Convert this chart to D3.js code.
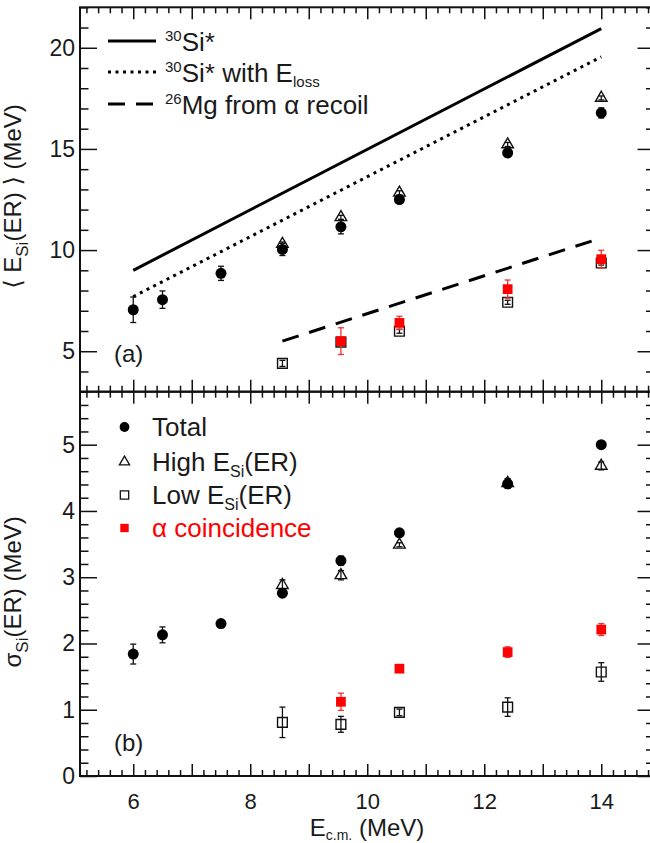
<!DOCTYPE html>
<html><head><meta charset="utf-8">
<script src="https://cdn.jsdelivr.net/npm/d3@7"></script>
<style>
body{margin:0;background:#fff}
svg{display:block}
text{font-family:"Liberation Sans",Arial,Helvetica,"DejaVu Sans",sans-serif;fill:#1a1a1a}
</style>
</head><body><svg id="c" width="650" height="843"></svg>
<script>
// ---------------- DATA ----------------
const energies      = [6.0, 6.5, 7.5, 8.55, 9.55, 10.55, 12.4, 14.0];
const energiesHL    = [8.55, 9.55, 10.55, 12.4, 14.0];
const energiesAlpha = [9.55, 10.55, 12.4, 14.0];

// panel (a): mean energy <E_Si(ER)> (MeV)
const meanTotal     = [7.05, 7.55, 8.85, 10.03, 11.15, 12.5, 14.8, 16.78];
const meanTotalErr  = [0.63, 0.43, 0.35, 0.3, 0.35, 0.15, 0.2, 0.25];
const meanHigh      = [10.3, 11.62, 12.83, 15.22, 17.52];
const meanHighErr   = [0.1, 0.1, 0.1, 0.1, 0.1];
const meanLow       = [4.4, 5.45, 5.99, 7.42, 9.36];
const meanLowErr    = [0.15, 0.1, 0.1, 0.1, 0.1];
const meanAlpha     = [5.5, 6.4, 8.07, 9.55];
const meanAlphaErr  = [0.66, 0.33, 0.45, 0.44];

// model lines (x = E_cm, y = <E>)
const lineSi     = [[6.0, 9.0], [14.0, 20.95]];
const lineSiLoss = [[6.0, 7.7], [14.0, 19.55]];
const lineMg     = [[8.55, 5.5], [14.0, 10.6]];

// panel (b): sigma_Si(ER) (MeV)
const sigTotal    = [1.84, 2.13, 2.30, 2.76, 3.25, 3.67, 4.41, 5.0];
const sigTotalErr = [0.15, 0.12, 0.06, 0.05, 0.07, 0.03, 0.07, 0.05];
const sigHigh     = [2.88, 3.03, 3.49, 4.42, 4.68];
const sigHighErr  = [0.08, 0.07, 0.03, 0.07, 0.06];
const sigLow      = [0.81, 0.78, 0.96, 1.04, 1.57];
const sigLowErr   = [0.23, 0.12, 0.05, 0.14, 0.14];
const sigAlpha    = [1.12, 1.62, 1.87, 2.21];
const sigAlphaErr = [0.13, 0.04, 0.08, 0.09];

// ticks
const xMajorTicks = [6, 7, 8, 9, 10, 11, 12, 13, 14];
const xLabelTicks = [6, 8, 10, 12, 14];
const yTopMajor   = [5, 10, 15, 20];
const yBotMajor   = [0, 1, 2, 3, 4, 5];

// ---------------- LAYOUT ----------------
const X0 = 80, X1 = 654.5;
const TOP0 = 7.3, MID = 391.7, BOT = 776;
const RED = "#ff0000";

const svg = d3.select("#c");
const x = d3.scaleLinear().domain([5.09, 14.91]).range([X0, X1]);
const yTop = d3.scaleLinear().domain([3, 22]).range([MID, TOP0]);
const yBot = d3.scaleLinear().domain([0, 5.8]).range([BOT, MID]);

const r2 = v => Math.round(v * 1000) / 1000;
const xMinor = d3.range(26, 75).map(i => r2(i * 0.2)).filter(v => Math.abs(v - Math.round(v)) > 1e-6 && v > 5.09 && v < 14.91);
const yTopMinor = d3.range(3, 23).filter(v => v % 5 !== 0);
const yBotMinor = d3.range(0, 30).map(i => r2(i * 0.2)).filter(v => Math.abs(v - Math.round(v)) > 1e-6 && v <= 5.8);

function styleAxis(fs) {
  return g => {
    g.select(".domain").remove();
    g.selectAll(".tick line").attr("stroke", "#111").attr("stroke-width", 1.5);
    g.selectAll(".tick text").attr("font-size", fs).attr("fill", "#1a1a1a");
  };
}

// y axes
function yAxes(scale, major, minor, fmt) {
  svg.append("g").attr("transform", `translate(${X0},0)`)
    .call(d3.axisLeft(scale).tickValues(major).tickSize(-17).tickPadding(5).tickFormat(fmt)).call(styleAxis(23));
  svg.append("g").attr("transform", `translate(${X0},0)`)
    .call(d3.axisLeft(scale).tickValues(minor).tickSize(-8.5).tickFormat("")).call(styleAxis(23));
  svg.append("g").attr("transform", `translate(${X1},0)`)
    .call(d3.axisRight(scale).tickValues(major).tickSize(-17).tickFormat("")).call(styleAxis(23));
  svg.append("g").attr("transform", `translate(${X1},0)`)
    .call(d3.axisRight(scale).tickValues(minor).tickSize(-8.5).tickFormat("")).call(styleAxis(23));
}
yAxes(yTop, yTopMajor, yTopMinor, d3.format("d"));
yAxes(yBot, yBotMajor, yBotMinor, d3.format("d"));

// x axes
function xAxis(y, dir, withLabels) {
  const mk = dir === "top" ? d3.axisTop : d3.axisBottom;
  svg.append("g").attr("transform", `translate(0,${y})`)
    .call(mk(x).tickValues(xMajorTicks).tickSize(-12).tickPadding(17)
      .tickFormat(d => withLabels && xLabelTicks.includes(d) ? d : "")).call(styleAxis(22));
  svg.append("g").attr("transform", `translate(0,${y})`)
    .call(mk(x).tickValues(xMinor).tickSize(-6).tickFormat("")).call(styleAxis(22));
}
xAxis(TOP0, "top", false);
xAxis(MID, "bottom", false);
xAxis(MID, "top", false);
xAxis(BOT, "bottom", true);

// frames
svg.append("rect").attr("x", X0).attr("y", TOP0).attr("width", X1 - X0).attr("height", MID - TOP0)
  .attr("fill", "none").attr("stroke", "#111").attr("stroke-width", 2);
svg.append("rect").attr("x", X0).attr("y", MID).attr("width", X1 - X0).attr("height", BOT - MID)
  .attr("fill", "none").attr("stroke", "#111").attr("stroke-width", 2);

// ---------------- LINES ----------------
const lineGen = d3.line().x(d => x(d[0])).y(d => yTop(d[1]));
svg.append("path").attr("d", lineGen(lineSi)).attr("fill", "none").attr("stroke", "#000").attr("stroke-width", 3);
svg.append("path").attr("d", lineGen(lineSiLoss)).attr("fill", "none").attr("stroke", "#000").attr("stroke-width", 3)
  .attr("stroke-dasharray", "3,4.5");
svg.append("path").attr("d", lineGen(lineMg)).attr("fill", "none").attr("stroke", "#000").attr("stroke-width", 3)
  .attr("stroke-dasharray", "17,11");

// ---------------- MARKERS ----------------
const sym = {
  circle: d3.symbol().type(d3.symbolCircle).size(95),
  triangle: d3.symbol().type(d3.symbolTriangle).size(58),
  square: d3.symbol().type(d3.symbolSquare).size(95)
};

function series(xs, ys, es, yScale, kind, fill, stroke, errColor) {
  const g = svg.append("g");
  xs.forEach((xv, i) => {
    const cx = x(xv), cy = yScale(ys[i]);
    const y1 = yScale(ys[i] + es[i]), y2 = yScale(ys[i] - es[i]);
    g.append("line").attr("x1", cx).attr("x2", cx).attr("y1", y1).attr("y2", y2)
      .attr("stroke", errColor).attr("stroke-width", 1.3);
    [y1, y2].forEach(yy => g.append("line").attr("x1", cx - 3).attr("x2", cx + 3).attr("y1", yy).attr("y2", yy)
      .attr("stroke", errColor).attr("stroke-width", 1.3));
    g.append("path").attr("d", sym[kind]()).attr("transform", `translate(${cx},${cy})`)
      .attr("fill", fill).attr("stroke", stroke).attr("stroke-width", fill === "none" ? 1.4 : 0);
  });
}

// panel (a)
series(energiesHL, meanLow, meanLowErr, yTop, "square", "none", "#111", "#111");
series(energiesAlpha, meanAlpha, meanAlphaErr, yTop, "square", RED, RED, "#ee3333");
series(energiesHL, meanHigh, meanHighErr, yTop, "triangle", "none", "#111", "#111");
series(energies, meanTotal, meanTotalErr, yTop, "circle", "#000", "#000", "#111");
// panel (b)
series(energiesHL, sigLow, sigLowErr, yBot, "square", "none", "#111", "#111");
series(energiesAlpha, sigAlpha, sigAlphaErr, yBot, "square", RED, RED, "#ee3333");
series(energiesHL, sigHigh, sigHighErr, yBot, "triangle", "none", "#111", "#111");
series(energies, sigTotal, sigTotalErr, yBot, "circle", "#000", "#000", "#111");

// ---------------- LEGENDS ----------------
const legTop = [
  {y: 41, dash: null, parts: [["30", "sup"], ["Si*", ""]]},
  {y: 72, dash: "3,4.5", parts: [["30", "sup"], ["Si* with E", ""], ["loss", "sub"]]},
  {y: 104, dash: "17,11", parts: [["26", "sup"], ["Mg from \u03b1 recoil", ""]]}
];
function richText(t, parts, big, small, up, down) {
  let state = "";
  parts.forEach(([s, k]) => {
    const ts = t.append("tspan").text(s);
    let dy = 0;
    if (k === "sup" && state !== "sup") dy = state === "sub" ? -(up + down) : -up;
    if (k === "sub" && state !== "sub") dy = state === "sup" ? (up + down) : down;
    if (k === "" && state === "sup") dy = up;
    if (k === "" && state === "sub") dy = -down;
    if (dy) ts.attr("dy", dy);
    ts.attr("font-size", k ? small : big);
    state = k;
  });
}
legTop.forEach(d => {
  const l = svg.append("line").attr("x1", 108).attr("x2", 156).attr("y1", d.y).attr("y2", d.y)
    .attr("stroke", "#000").attr("stroke-width", 3);
  if (d.dash) l.attr("stroke-dasharray", d.dash);
  const t = svg.append("text").attr("x", 165).attr("y", d.y + 9.5);
  richText(t, d.parts, 26, 15, 10, 5);
});

const legBot = [
  {y: 427, kind: "circle", fill: "#000", stroke: "#000", color: "#1a1a1a", parts: [["Total", ""]]},
  {y: 462, kind: "triangle", fill: "none", stroke: "#111", color: "#1a1a1a", parts: [["High E", ""], ["Si", "sub"], ["(ER)", ""]]},
  {y: 495, kind: "square", fill: "none", stroke: "#111", color: "#1a1a1a", parts: [["Low E", ""], ["Si", "sub"], ["(ER)", ""]]},
  {y: 528, kind: "square", fill: RED, stroke: RED, color: RED, parts: [["\u03b1 coincidence", ""]]}
];
const legSym = {
  circle: d3.symbol().type(d3.symbolCircle).size(75),
  triangle: d3.symbol().type(d3.symbolTriangle).size(45),
  square: d3.symbol().type(d3.symbolSquare).size(70)
};
legBot.forEach(d => {
  svg.append("path").attr("d", legSym[d.kind]()).attr("transform", `translate(124.5,${d.y})`)
    .attr("fill", d.fill).attr("stroke", d.stroke).attr("stroke-width", d.fill === "none" ? 1.3 : 0);
  const t = svg.append("text").attr("x", 152).attr("y", d.y + 9).style("fill", d.color);
  richText(t, d.parts, 26, 16, 10, 6);
});

// panel labels
svg.append("text").attr("x", 114).attr("y", 362).attr("font-size", 24).text("(a)");
svg.append("text").attr("x", 114).attr("y", 751).attr("font-size", 24).text("(b)");

// axis titles
const xt = svg.append("text").attr("x", 367).attr("y", 835.5).attr("text-anchor", "middle");
richText(xt, [["E", ""], ["c.m.", "sub"], [" (MeV)", ""]], 24, 14, 10, 4);

const yt1 = svg.append("text").attr("text-anchor", "middle")
  .attr("transform", `translate(21,${(TOP0 + MID) / 2 - 3}) rotate(-90)`);
richText(yt1, [["\u27e8 E", ""], ["Si", "sub"], ["(ER) \u27e9 (MeV)", ""]], 24, 17, 10, 7);

const yt2 = svg.append("text").attr("text-anchor", "middle")
  .attr("transform", `translate(21,${(MID + BOT) / 2 + 8}) rotate(-90)`);
richText(yt2, [["\u03c3", ""], ["Si", "sub"], ["(ER) (MeV)", ""]], 24, 17, 10, 7);
</script></body></html>
